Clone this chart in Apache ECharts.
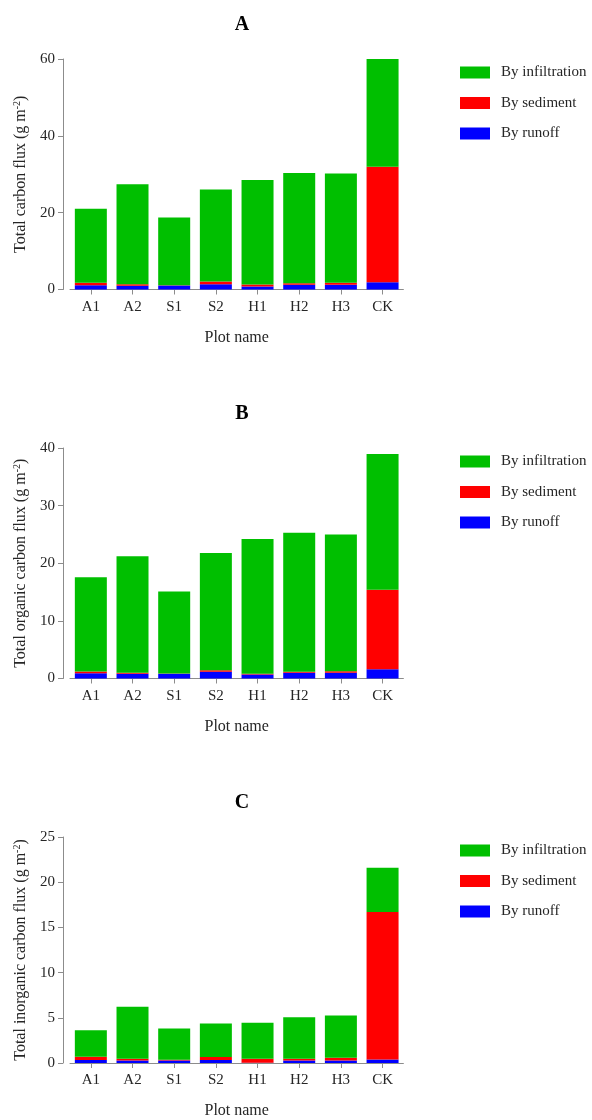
<!DOCTYPE html>
<html><head><meta charset="utf-8">
<script src="https://cdn.jsdelivr.net/npm/echarts@6/dist/echarts.min.js"></script>
<style>html,body{margin:0;padding:0;background:#fff}#c{width:592px;height:1120px}</style>
</head><body><div id="c"></div>
<script>
const categories = ['A1','A2','S1','S2','H1','H2','H3','CK'];
const seriesNames = ['By infiltration','By sediment','By runoff'];
const panelTitles = ['A','B','C'];
const yTitles = ['Total carbon flux', 'Total organic carbon flux', 'Total inorganic carbon flux'];
const yMax = [60, 40, 25];
const yStep = [20, 10, 5];
// Panel A: total carbon flux
const runoffA   = [1.13, 0.96, 1.04, 1.39, 0.78, 1.22, 1.22, 1.91];
const sedimentA = [0.61, 0.43, 0.09, 0.70, 0.52, 0.43, 0.52, 30.04];
const infilA    = [19.26, 26.01, 17.62, 23.91, 27.2, 28.65, 28.46, 28.05];
// Panel B: organic carbon flux
const runoffB   = [0.92, 0.81, 0.81, 1.16, 0.69, 0.98, 0.98, 1.6];
const sedimentB = [0.29, 0.17, 0.06, 0.29, 0.12, 0.18, 0.29, 13.78];
const infilB    = [16.36, 20.22, 14.22, 20.35, 23.39, 24.14, 23.7, 23.58];
// Panel C: inorganic carbon flux
const runoffC   = [0.33, 0.29, 0.29, 0.33, 0.03, 0.29, 0.29, 0.40];
const sedimentC = [0.36, 0.18, 0.07, 0.32, 0.44, 0.18, 0.29, 16.3];
const infilC    = [2.93, 5.75, 3.47, 3.73, 3.98, 4.60, 4.67, 4.9];

const panels = [
  {runoff: runoffA, sediment: sedimentA, infil: infilA},
  {runoff: runoffB, sediment: sedimentB, infil: infilB},
  {runoff: runoffC, sediment: sedimentC, infil: infilC}
];
const colors = {'By infiltration':'#00bf00','By sediment':'#ff0000','By runoff':'#0000ff'};
const FONT = '"Liberation Serif", "Times New Roman", serif';
const TXT = '#262626';
const AX = '#8c8c8c';
const tops = [59, 448, 837];
const gridH = 230.5;

const option = {animation:false, title:[], grid:[], xAxis:[], yAxis:[], series:[], legend:[]};
panels.forEach((p, i) => {
  const top = tops[i];
  option.title.push({text: panelTitles[i], left: 237, top: top - 49, textAlign:'center',
    textStyle:{fontFamily:FONT, fontWeight:'bold', fontSize:20, color:'#000'}});
  option.grid.push({left:70, top: top, width:333.4, height:gridH, containLabel:false});
  option.xAxis.push({type:'category', gridIndex:i, data:categories,
    axisLine:{lineStyle:{color:AX, width:1}},
    axisTick:{show:true, alignWithLabel:true, length:5, lineStyle:{color:AX}},
    axisLabel:{fontFamily:FONT, fontSize:15, color:TXT, margin:10},
    name:'Plot name', nameLocation:'middle', nameGap:40,
    nameTextStyle:{fontFamily:FONT, fontSize:16, color:TXT}});
  option.yAxis.push({type:'value', gridIndex:i, min:0, max:yMax[i], interval:yStep[i], offset:7,
    axisLine:{show:true, lineStyle:{color:AX, width:1}},
    axisTick:{show:true, length:5, lineStyle:{color:AX}},
    splitLine:{show:false},
    axisLabel:{fontFamily:FONT, fontSize:15, color:TXT, margin:8},
    name: yTitles[i] + ' (g m{sup|-2})', nameLocation:'middle', nameGap:32,
    nameTextStyle:{fontFamily:FONT, fontSize:16, color:TXT,
      rich:{sup:{fontFamily:FONT, fontSize:10, color:TXT, verticalAlign:'top', padding:[0,0,8,0]}}}});
  const stack = 's' + i;
  [['By runoff', p.runoff], ['By sediment', p.sediment], ['By infiltration', p.infil]].forEach(([nm, vals]) => {
    option.series.push({type:'bar', name:nm, xAxisIndex:i, yAxisIndex:i, stack:stack, data:vals,
      barWidth:32, itemStyle:{color:colors[nm]}});
  });
  option.legend.push({orient:'vertical', left:460, top: top + 6, padding:0, data:seriesNames,
    itemWidth:30, itemHeight:12, itemGap:15.5, icon:'rect',
    textStyle:{fontFamily:FONT, fontSize:15, color:TXT, padding:[0,0,0,6]}});
});
const chart = echarts.init(document.getElementById('c'), null, {renderer:'canvas'});
chart.setOption(option);
</script></body></html>
